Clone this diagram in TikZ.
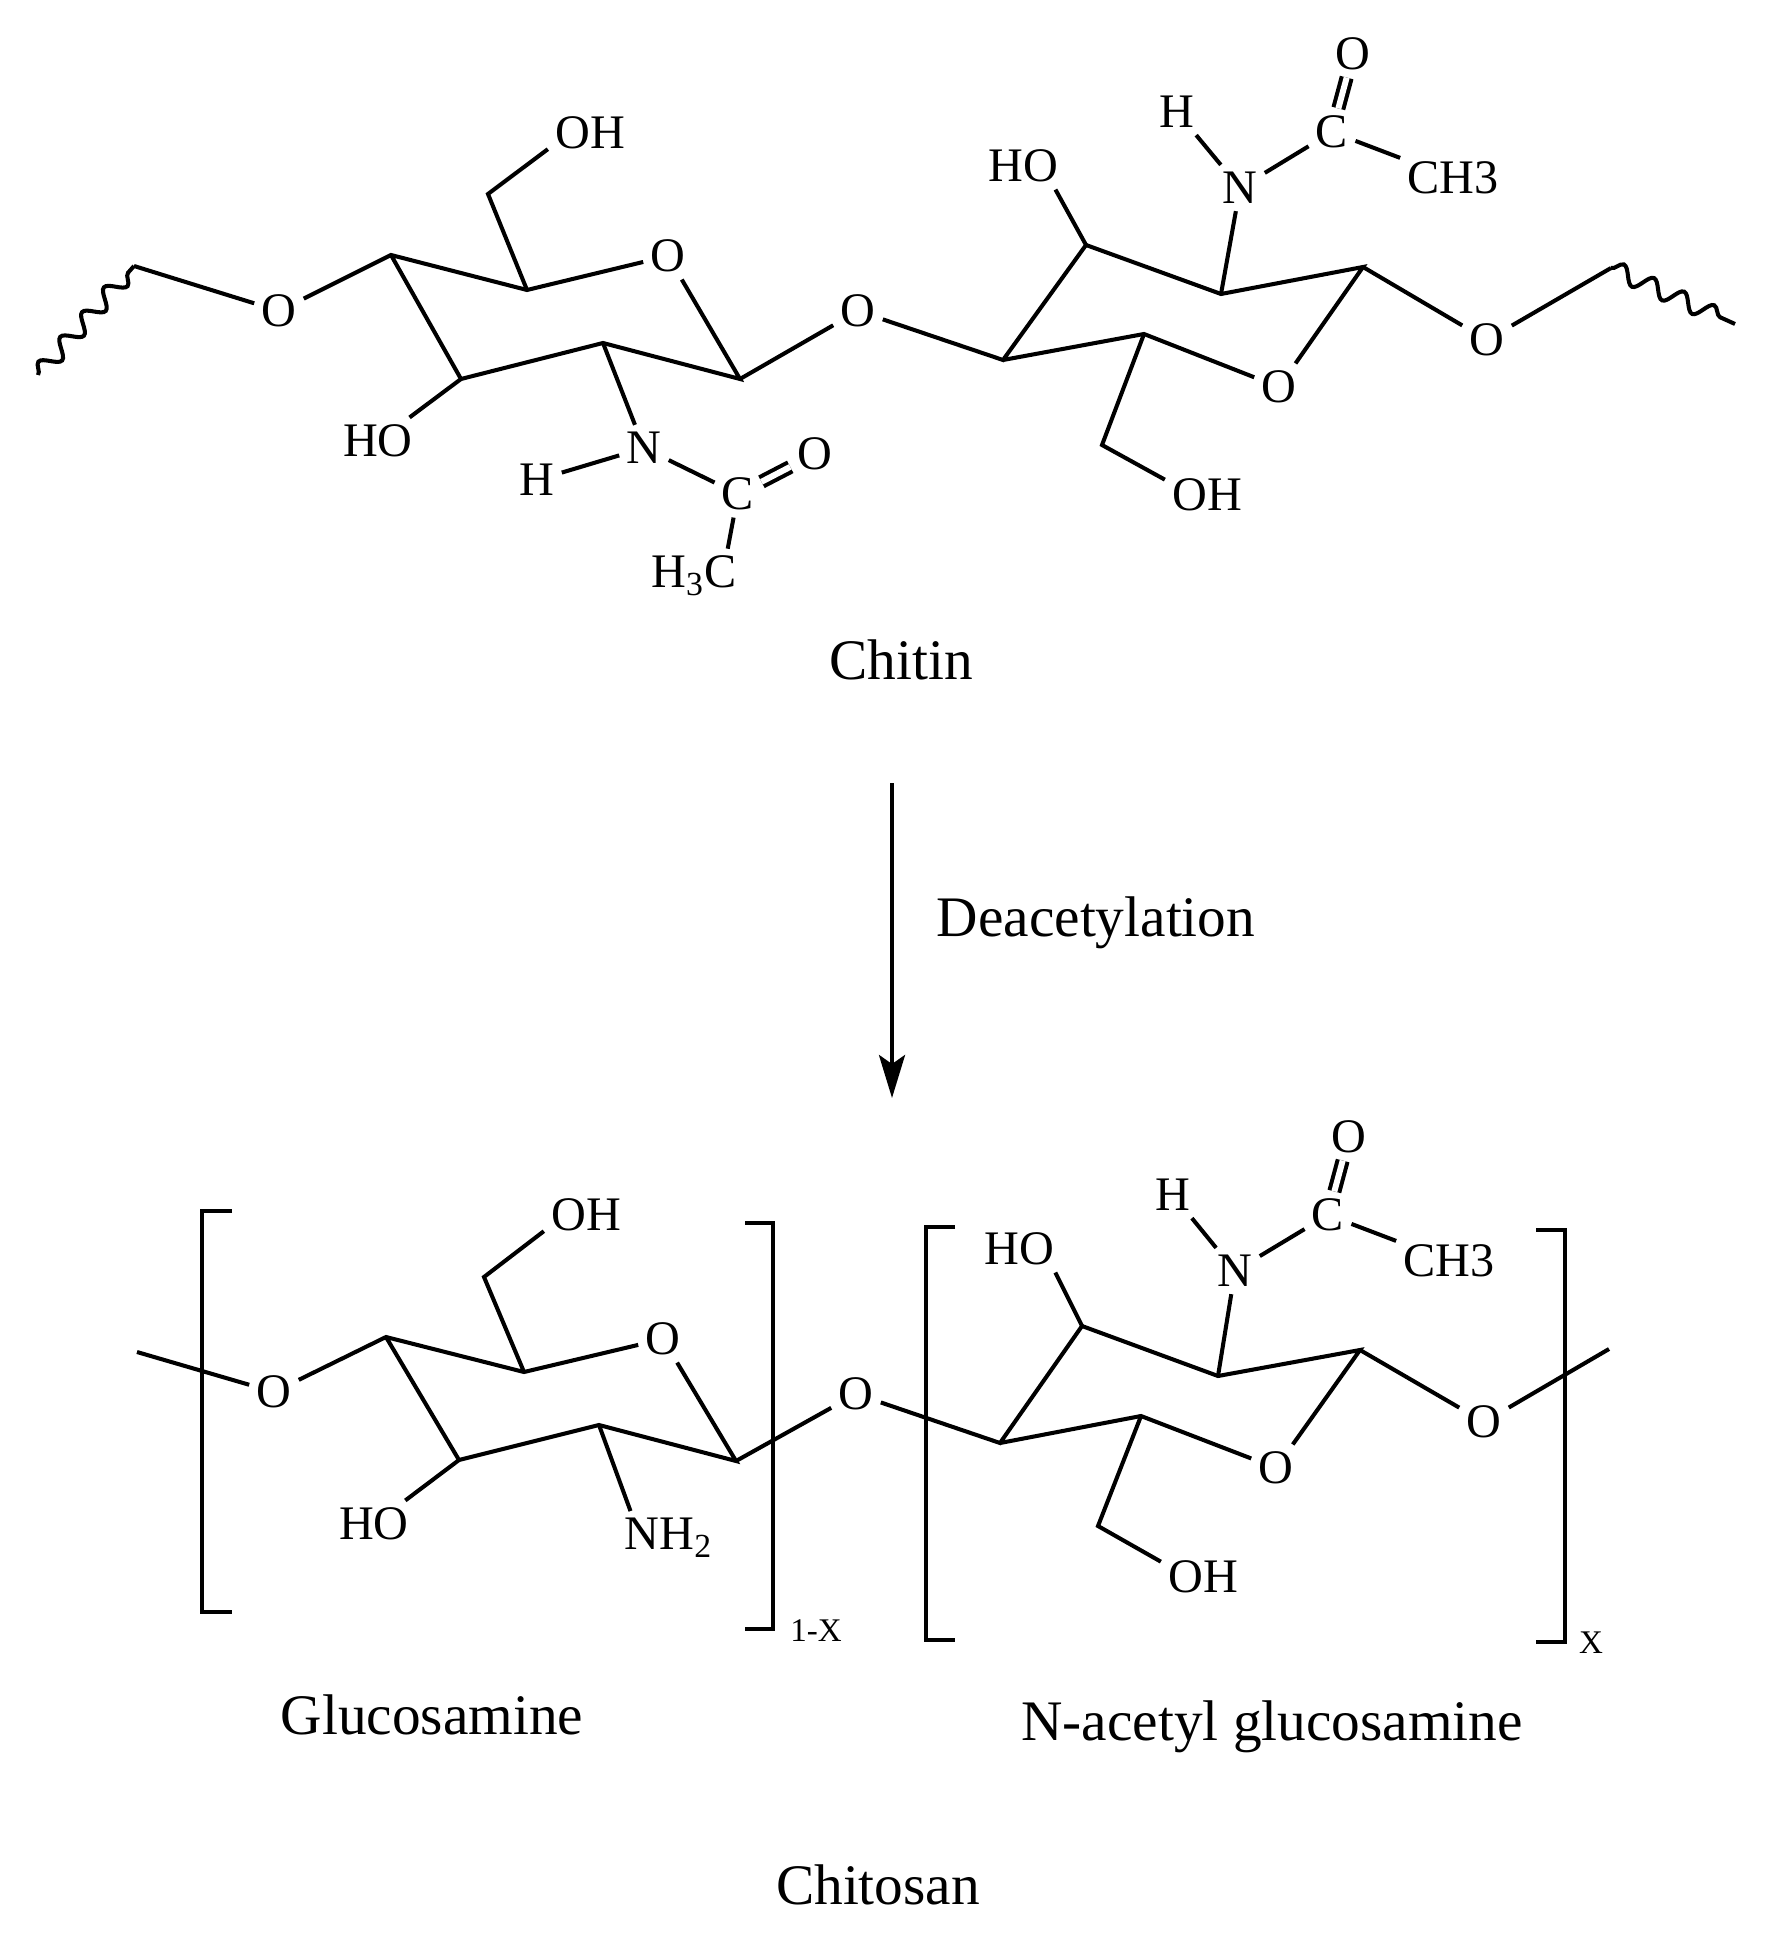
\documentclass[tikz,border=0pt]{standalone}
\usepackage{fontspec}
\setmainfont{Liberation Serif}
\usetikzlibrary{arrows.meta,decorations.pathmorphing}
\tikzset{
  bond/.style={line width=1.15pt},
  atom/.style={inner sep=1.9pt,font=\fontsize{13.7}{16}\selectfont},
  caption/.style={inner sep=1pt,font=\fontsize{16.3}{18}\selectfont},
  repeatno/.style={inner sep=1pt,font=\fontsize{9.4}{11}\selectfont},
  wavy/.style={bond,decorate,decoration={snake,segment length=0.33cm,amplitude=0.085cm}}
}
\begin{document}
\begin{tikzpicture}[x=0.01cm,y=-0.01cm]
    \useasboundingbox (0,0) rectangle (1776,1937);

    % Chitin, left ring
    \coordinate (aW) at (38,375);
    \coordinate (aE) at (134,266);
    \coordinate (aC4) at (391,255);
    \coordinate (aC5) at (527,290);
    \coordinate (aC1) at (740,379);
    \coordinate (aC2) at (603,343);
    \coordinate (aC3) at (461,379);
    \coordinate (aC6) at (488,194);
    \node[atom] (aO) at (279,311) {O};
    \node[atom] (aOr) at (668,256) {O};
    \node[atom] (aOH) at (590,133) {OH};
    \node[atom] (aHO) at (378,441) {HO};
    \node[atom] (aN) at (644,448) {N};
    \node[atom] (aH) at (537,480) {H};
    \node[atom] (aC) at (738,494) {C};
    \node[atom] (aOd) at (815,454) {O};
    \node[atom] (aMe) at (694,576) {H\textsubscript{3}C};
    \draw[wavy] (aW) -- (aE);
    \draw[bond] (aE) -- (aO) -- (aC4) -- (aC5) -- (aOr) -- (aC1) -- (aC2) -- (aC3) -- (aC4);
    \draw[bond] (aC5) -- (aC6) -- (aOH.201);
    \draw[bond] (aC3) -- (aHO);
    \draw[bond] (aC2) -- (aN) -- (aH);
    \draw[bond] (aN) -- (aC) -- (aMe.39);
    \draw[bond,double,double distance=1.7pt] (aC) -- (aOd);

    % Chitin, linking oxygen and right ring
    \node[atom] (bL) at (858,311) {O};
    \coordinate (bC4) at (1003,360);
    \coordinate (bC3) at (1086,245);
    \coordinate (bC2) at (1221,294);
    \coordinate (bC1) at (1363,267);
    \coordinate (bC5) at (1144,334);
    \coordinate (bC6) at (1102,445);
    \coordinate (bW) at (1611,268);
    \coordinate (bE) at (1735,324);
    \node[atom] (bOr) at (1279,387) {O};
    \node[atom] (bOH) at (1207,495) {OH};
    \node[atom] (bHO) at (1023,166) {HO};
    \node[atom] (bN) at (1240,188) {N};
    \node[atom] (bH) at (1177,112) {H};
    \node[atom] (bC) at (1332,132) {C};
    \node[atom] (bOd) at (1353,54) {O};
    \node[atom] (bMe) at (1453,178) {CH3};
    \node[atom] (bO) at (1487,340) {O};
    \draw[bond] (aC1) -- (bL) -- (bC4) -- (bC3) -- (bC2) -- (bC1) -- (bOr) -- (bC5) -- (bC4);
    \draw[bond] (bC5) -- (bC6) -- (bOH.160);
    \draw[bond] (bC3) -- (bHO.-36);
    \draw[bond] (bC2) -- (bN) -- (bH);
    \draw[bond] (bN) -- (bC) -- (bMe);
    \draw[bond,double,double distance=1.7pt] (bC) -- (bOd);
    \draw[bond] (bC1) -- (bO) -- (bW);
    \draw[wavy] (bW) -- (bE);

    \node[caption] (chitin) at (901,660) {Chitin};

    % Reaction arrow
    \coordinate (arrTop) at (892,783);
    \coordinate (arrEnd) at (892,1098);
    \draw[bond,-{Stealth[length=43*0.01cm,width=26*0.01cm,inset=9*0.01cm]}] (arrTop) -- (arrEnd);
    \node[caption] (deac) at (1096,923) {Deacetylation};

    % Chitosan, glucosamine unit
    \coordinate (cW) at (137,1352);
    \coordinate (cC4) at (386,1337);
    \coordinate (cC5) at (524,1372);
    \coordinate (cC1) at (736,1461);
    \coordinate (cC2) at (599,1425);
    \coordinate (cC3) at (459,1460);
    \coordinate (cC6) at (484,1277);
    \node[atom] (cO) at (274,1392) {O};
    \node[atom] (cOr) at (663,1339) {O};
    \node[atom] (cOH) at (586,1215) {OH};
    \node[atom] (cHO) at (374,1524) {HO};
    \node[atom] (cN) at (669,1538) {NH\textsubscript{2}};
    \draw[bond] (cW) -- (cO) -- (cC4) -- (cC5) -- (cOr) -- (cC1) -- (cC2) -- (cC3) -- (cC4);
    \draw[bond] (cC5) -- (cC6) -- (cOH.201);
    \draw[bond] (cC3) -- (cHO);
    \draw[bond] (cC2) -- (cN.145);

    % Brackets of the first unit
    \draw[bond] (232,1211) -- (202,1211) -- (202,1612) -- (232,1612);
    \draw[bond] (745,1223) -- (773,1223) -- (773,1629) -- (745,1629);
    \node[repeatno] (cX) at (816,1631) {1-X};
    \node[caption] (gluc) at (432,1715) {Glucosamine};

    % Chitosan, N-acetyl glucosamine unit
    \node[atom] (dL) at (856,1394) {O};
    \coordinate (dC4) at (1000,1443);
    \coordinate (dC3) at (1082,1326);
    \coordinate (dC2) at (1218,1376);
    \coordinate (dC1) at (1360,1350);
    \coordinate (dC5) at (1141,1416);
    \coordinate (dC6) at (1098,1526);
    \coordinate (dE) at (1609,1349);
    \node[atom] (dOr) at (1276,1468) {O};
    \node[atom] (dOH) at (1203,1577) {OH};
    \node[atom] (dHO) at (1019,1249) {HO};
    \node[atom] (dN) at (1235,1271) {N};
    \node[atom] (dH) at (1173,1195) {H};
    \node[atom] (dC) at (1328,1215) {C};
    \node[atom] (dOd) at (1349,1137) {O};
    \node[atom] (dMe) at (1449,1261) {CH3};
    \node[atom] (dO) at (1484,1422) {O};
    \draw[bond] (cC1) -- (dL) -- (dC4) -- (dC3) -- (dC2) -- (dC1) -- (dOr) -- (dC5) -- (dC4);
    \draw[bond] (dC5) -- (dC6) -- (dOH.160);
    \draw[bond] (dC3) -- (dHO.-33);
    \draw[bond] (dC2) -- (dN) -- (dH);
    \draw[bond] (dN) -- (dC) -- (dMe);
    \draw[bond,double,double distance=1.7pt] (dC) -- (dOd);
    \draw[bond] (dC1) -- (dO) -- (dE);

    % Brackets of the second unit
    \draw[bond] (955,1227) -- (926,1227) -- (926,1640) -- (955,1640);
    \draw[bond] (1536,1230) -- (1565,1230) -- (1565,1642) -- (1536,1642);
    \node[repeatno] (dX) at (1591,1643) {X};
    \node[caption] (nag) at (1272,1727) {N-acetyl glucosamine};

    \node[caption] (chitosan) at (878,1885) {Chitosan};

\end{tikzpicture}
\end{document}
